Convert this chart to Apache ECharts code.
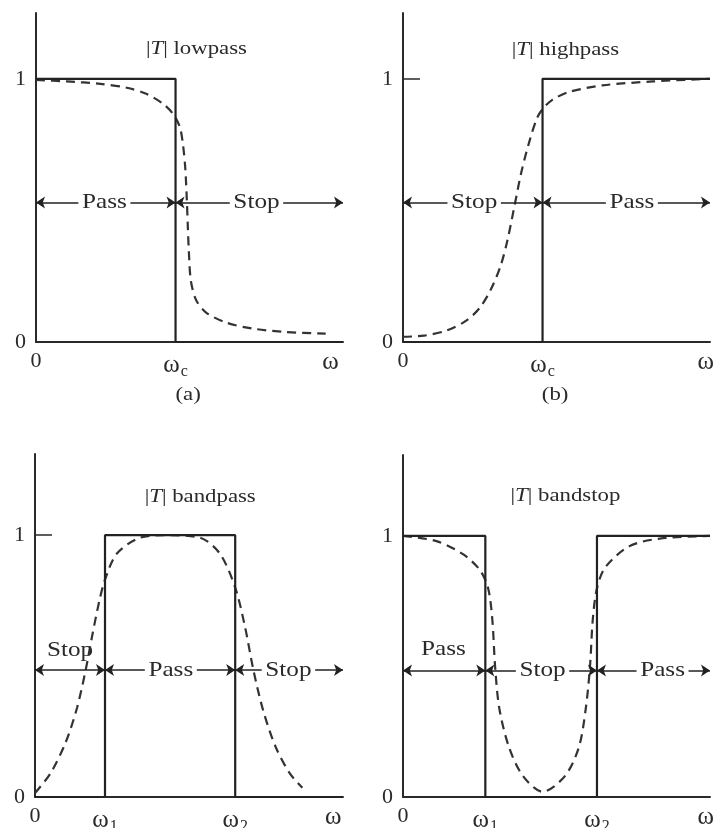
<!DOCTYPE html>
<html>
<head>
<meta charset="utf-8">
<title>Filter magnitude responses</title>
<script src="https://cdn.jsdelivr.net/npm/echarts@6/dist/echarts.min.js"></script>
<style>
  html, body { margin: 0; padding: 0; background: #fff; }
  #chart { width: 713px; height: 828px; }
</style>
</head>
<body>
<div id="chart"></div>
<script>
// Frequency axis runs 0..2.2 (cut-off of the single-edge filters at 1).
const OMEGA_MAX = 2.2;

// Tick positions and labels on the frequency axis
const lowpassTicks = [0, 1, 2.11];
const lowpassTickLabels = ['0', 'ω_c', 'ω'];
const highpassTicks = [0, 1, 2.17];
const highpassTickLabels = ['0', 'ω_c', 'ω'];
const bandpassTicks = [0, 0.5, 1.43, 2.13];
const bandpassTickLabels = ['0', 'ω_1', 'ω_2', 'ω'];
const bandstopTicks = [0, 0.59, 1.39, 2.17];
const bandstopTickLabels = ['0', 'ω_1', 'ω_2', 'ω'];

// Ideal (brick-wall) responses |T|
const lowpassIdeal = [[0, 1], [1, 1], [1, 0], [2.2, 0]];
const highpassIdeal = [[0, 0], [1, 0], [1, 1], [2.2, 1]];
const bandpassIdeal = [[0, 0], [0.5, 0], [0.5, 1], [1.43, 1], [1.43, 0], [2.2, 0]];
const bandstopIdeal = [[0, 1], [0.59, 1], [0.59, 0], [1.39, 0], [1.39, 1], [2.2, 1]];

// Realisable responses |T| (dashed)
const lowpassReal = [
  [0, 0.996], [0.22, 0.99], [0.46, 0.981], [0.65, 0.966], [0.79, 0.943], [0.91, 0.905],
  [0.98, 0.868], [1.03, 0.818], [1.052, 0.755], [1.069, 0.666], [1.081, 0.539],
  [1.088, 0.438], [1.095, 0.349], [1.11, 0.232], [1.148, 0.159], [1.219, 0.112],
  [1.362, 0.074], [1.552, 0.051], [1.79, 0.038], [2.076, 0.032]
];
const highpassReal = [
  [0, 0.02], [0.15, 0.024], [0.31, 0.043], [0.45, 0.08], [0.55, 0.13], [0.63, 0.2],
  [0.7, 0.29], [0.75, 0.39], [0.8, 0.52], [0.85, 0.65], [0.91, 0.77], [0.96, 0.85],
  [1.0, 0.885], [1.07, 0.92], [1.19, 0.95], [1.43, 0.975], [1.79, 0.99], [2.2, 1.0]
];
const bandpassReal = [
  [0, 0.015], [0.11, 0.09], [0.22, 0.21], [0.3, 0.34], [0.36, 0.48], [0.41, 0.62],
  [0.46, 0.75], [0.5, 0.83], [0.585, 0.93], [0.75, 0.99], [0.94, 1.0], [1.18, 0.99],
  [1.32, 0.93], [1.43, 0.8], [1.5, 0.65], [1.56, 0.485], [1.63, 0.33], [1.72, 0.19],
  [1.82, 0.09], [1.91, 0.035]
];
const bandstopReal = [
  [0, 1.0], [0.24, 0.98], [0.43, 0.93], [0.55, 0.87], [0.61, 0.8], [0.64, 0.68],
  [0.66, 0.5], [0.69, 0.34], [0.76, 0.19], [0.86, 0.08], [1.0, 0.02], [1.16, 0.08],
  [1.26, 0.19], [1.31, 0.34], [1.34, 0.5], [1.36, 0.68], [1.39, 0.8], [1.45, 0.88],
  [1.62, 0.96], [1.84, 0.99], [2.2, 1.0]
];

// Band arrows: [from, to] along the frequency axis, drawn at a fixed |T| level
const lowpassArrows = [[0, 1], [1, 2.2]];
const highpassArrows = [[0, 1], [1, 2.2]];
const bandpassArrows = [[0, 0.5], [0.5, 1.43], [1.43, 2.2]];
const bandstopArrows = [[0, 0.59], [0.59, 1.39], [1.39, 2.2]];
const lowpassArrowLevel = 0.53;
const highpassArrowLevel = 0.53;
const bandpassArrowLevel = 0.485;
const bandstopArrowLevel = 0.485;

// Band names written on the arrows: [x, y, text]
const lowpassBandNames = [[0.49, 0.53, 'Pass'], [1.58, 0.53, 'Stop']];
const highpassBandNames = [[0.51, 0.53, 'Stop'], [1.64, 0.53, 'Pass']];
const bandpassBandNames = [[0.97, 0.485, 'Pass'], [1.81, 0.485, 'Stop']];
const bandstopBandNames = [[1.0, 0.485, 'Stop'], [1.86, 0.485, 'Pass']];
// Band names written above the arrow
const bandpassUpperNames = [[0.25, 0.56, 'Stop']];
const bandstopUpperNames = [[0.29, 0.565, 'Pass']];

// Panel headings and sub-figure captions: [x, y, text]
const lowpassHeading = [[1.15, 1.114, 'lowpass'], [1.09, -0.2, '(a)']];
const highpassHeading = [[1.164, 1.11, 'highpass'], [1.09, -0.2, '(b)']];
const bandpassHeading = [[1.18, 1.145, 'bandpass']];
const bandstopHeading = [[1.164, 1.153, 'bandstop']];

const FONT = '"Liberation Serif", "Times New Roman", serif';
const INK = '#222';
const TEXT_INK = '#2a2a2a';
const AXIS_INK = '#2a2a2a';
const STRETCH = 1.2;

// Plot areas are fixed; labels may run off the page edge
const grids = [
  { left: 36, top: 13, width: 307, height: 329, outerBoundsMode: 'none' },
  { left: 403, top: 13, width: 307, height: 329, outerBoundsMode: 'none' },
  { left: 35, top: 454, width: 308, height: 343, outerBoundsMode: 'none' },
  { left: 403, top: 455, width: 307, height: 342, outerBoundsMode: 'none' }
];
const yMax = [1.25, 1.25, 1.31, 1.31];

function tickFormatter(values, labels) {
  return function (v) {
    const i = values.findIndex(t => Math.abs(t - v) < 1e-6);
    if (i < 0) return '';
    const parts = labels[i].split('_');
    if (parts[0] === 'ω') {
      return '{w|ω}' + (parts.length > 1 ? '{s|' + parts[1] + '}' : '');
    }
    return labels[i];
  };
}

function xAxisFor(idx, ticks, labels) {
  return {
    type: 'value', gridIndex: idx, min: 0, max: OMEGA_MAX,
    splitLine: { show: false },
    axisTick: { show: false },
    axisLine: { show: true, lineStyle: { color: AXIS_INK, width: 2 } },
    axisLabel: {
      customValues: ticks,
      formatter: tickFormatter(ticks, labels),
      fontFamily: FONT, fontSize: 22, color: TEXT_INK, margin: 8,
      hideOverlap: false,
      rich: {
        w: { fontFamily: FONT, fontSize: 25, color: TEXT_INK },
        s: { fontFamily: FONT, fontSize: 16, color: TEXT_INK, padding: [14, 0, 0, 1] }
      }
    }
  };
}

function yAxisFor(idx) {
  return {
    type: 'value', gridIndex: idx, min: 0, max: yMax[idx],
    splitLine: { show: false },
    axisLine: { show: true, lineStyle: { color: AXIS_INK, width: 2 } },
    axisTick: { show: true, inside: true, length: 17, customValues: [1], lineStyle: { color: AXIS_INK, width: 1.5 } },
    axisLabel: {
      customValues: [0, 1],
      fontFamily: FONT, fontSize: 22, color: TEXT_INK, margin: 10
    }
  };
}

// Text placed in data coordinates, slightly widened like the typeset figure
function textSeries(idx, items, format, boxed, size) {
  return {
    type: 'custom', xAxisIndex: idx, yAxisIndex: idx, clip: false, silent: true, z: 7,
    data: items.map(d => [d[0], d[1]]),
    renderItem: function (params, api) {
      const p = api.coord([api.value(0), api.value(1)]);
      const style = {
        text: format(items[params.dataIndex][2]),
        fontFamily: FONT, fontSize: size, fill: TEXT_INK,
        align: 'center', verticalAlign: 'middle',
        rich: { i: { fontFamily: FONT, fontSize: size, fontStyle: 'italic', fill: TEXT_INK } }
      };
      if (boxed) {
        style.backgroundColor = '#fff';
        style.padding = [0, 3, 0, 3];
      }
      return { type: 'text', x: p[0], y: p[1], scaleX: STRETCH, style: style };
    }
  };
}

function headingText(t) {
  return t.charAt(0) === '(' ? t : '|{i|T}| ' + t;
}

function panelSeries(idx, ideal, real, arrows, level, names, heading, upper) {
  const list = [
    {
      type: 'line', xAxisIndex: idx, yAxisIndex: idx, data: real,
      smooth: 0.3, showSymbol: false, symbol: 'none',
      lineStyle: { color: '#333', width: 2.2, type: [9, 6] }, z: 3, silent: true
    },
    {
      type: 'line', xAxisIndex: idx, yAxisIndex: idx, data: ideal,
      showSymbol: false, symbol: 'none',
      lineStyle: { color: INK, width: 2.2 }, z: 4, silent: true
    },
    {
      type: 'lines', coordinateSystem: 'cartesian2d', xAxisIndex: idx, yAxisIndex: idx,
      symbol: ['arrow', 'arrow'], symbolSize: [9, 9],
      lineStyle: { color: INK, width: 1.5, opacity: 1, curveness: 0 },
      data: arrows.map(a => ({ coords: [[a[0], level], [a[1], level]] })),
      z: 5, silent: true
    },
    textSeries(idx, names, t => t, true, 21),
    textSeries(idx, heading, headingText, false, 19)
  ];
  if (upper) list.push(textSeries(idx, upper, t => t, false, 21));
  return list;
}

const option = {
  backgroundColor: '#fff',
  animation: false,
  grid: grids,
  xAxis: [
    xAxisFor(0, lowpassTicks, lowpassTickLabels),
    xAxisFor(1, highpassTicks, highpassTickLabels),
    xAxisFor(2, bandpassTicks, bandpassTickLabels),
    xAxisFor(3, bandstopTicks, bandstopTickLabels)
  ],
  yAxis: [yAxisFor(0), yAxisFor(1), yAxisFor(2), yAxisFor(3)],
  series: [].concat(
    panelSeries(0, lowpassIdeal, lowpassReal, lowpassArrows, lowpassArrowLevel, lowpassBandNames, lowpassHeading),
    panelSeries(1, highpassIdeal, highpassReal, highpassArrows, highpassArrowLevel, highpassBandNames, highpassHeading),
    panelSeries(2, bandpassIdeal, bandpassReal, bandpassArrows, bandpassArrowLevel, bandpassBandNames, bandpassHeading, bandpassUpperNames),
    panelSeries(3, bandstopIdeal, bandstopReal, bandstopArrows, bandstopArrowLevel, bandstopBandNames, bandstopHeading, bandstopUpperNames)
  )
};

const chart = echarts.init(document.getElementById('chart'), null, { renderer: 'canvas' });
chart.setOption(option);
</script>
</body>
</html>
